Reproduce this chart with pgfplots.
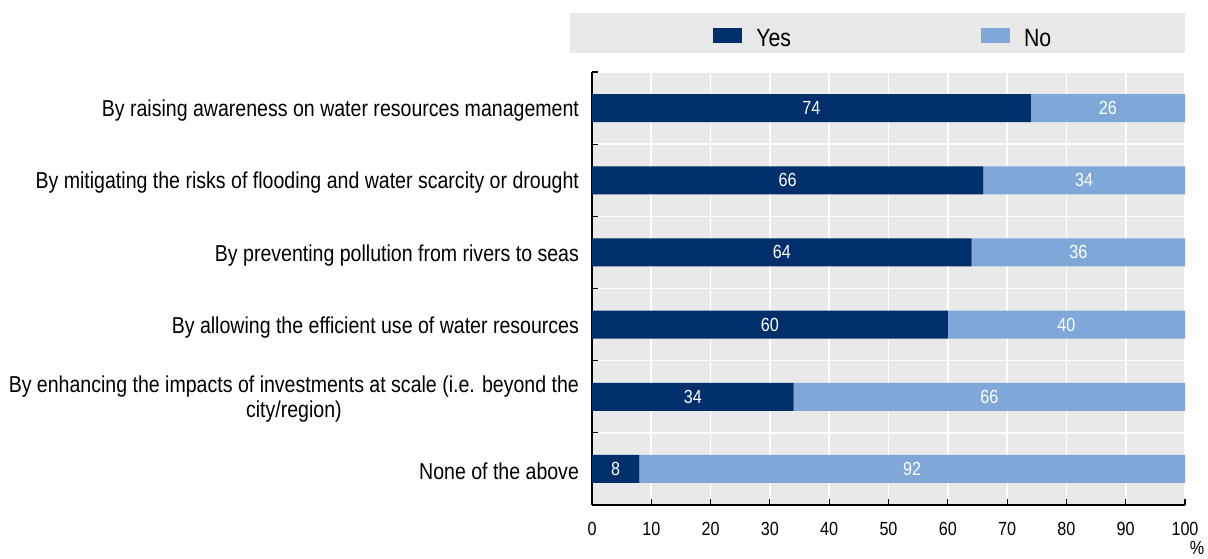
\documentclass[border=0pt]{standalone}
\usepackage{pgfplots}
\pgfplotsset{compat=1.18}
\usepackage{pgfplotstable}
\usepackage{fontspec}
\setmainfont{Liberation Sans}[FakeStretch=0.85]
\definecolor{yescol}{HTML}{002F6C}
\definecolor{nocol}{HTML}{7FA8D9}
\definecolor{bggray}{HTML}{E9E9E9}
\pgfplotstableread{
y yes no
0 74 26
1 66 34
2 64 36
3 60 40
4 34 66
5 8 92
}\datatable
\begin{document}
\begin{tikzpicture}
\useasboundingbox (-296pt,-26.5pt) rectangle (308pt,252.5pt);
\begin{axis}[name=ax,
  scale only axis, width=296.5pt, height=216.5pt,
  xbar stacked, bar width=14pt,
  xmin=0, xmax=100, ymin=-0.5, ymax=5.5, y dir=reverse,
  axis x line*=bottom, axis y line*=left,
  axis line style={black, line width=0.6pt, -},
  axis background/.style={fill=bggray},
  xtick={0,10,...,100},
  ytick={-0.5,0.5,...,5.5},
  yticklabels={By raising awareness on water resources management,
    By mitigating the risks of flooding and water scarcity or drought,
    By preventing pollution from rivers to seas,
    By allowing the efficient use of water resources,
    {By enhancing the impacts of investments at scale (i.e. beyond the\\city/region)},
    None of the above, {}},
  yticklabel style={yshift=-19.4pt, align=center, font=\fontsize{11.5}{12.5}\selectfont, xshift=-3pt},
  xticklabel style={font=\fontsize{9.5}{11}\selectfont, yshift=-5pt},
  /pgf/number format/assume math mode=true,
  tick align=inside, major tick length=3pt,
  tick style={black, line width=0.6pt},
  grid=major, major grid style={white, line width=0.8pt},
  nodes near coords, point meta=rawx,
  every node near coord/.style={white, font=\fontsize{9.5}{11}\selectfont, anchor=center},
  legend columns=2,
  legend style={at={(axis description cs:0,1)}, anchor=south west, xshift=-11pt, yshift=9.5pt,
    fill=bggray, draw=none, font=\fontsize{12.5}{14}\selectfont,
    inner xsep=65pt, inner ysep=0pt,
    nodes={anchor=base west, inner ysep=0pt, text height=17pt, text depth=3pt},
    /tikz/every odd column/.append style={column sep=5pt},
    /tikz/every even column/.append style={column sep=86.5pt}},
  legend image code/.code={\path[draw=none, fill=none] (-6.5pt,3pt) -- (0pt,3pt);\fill[#1] (0pt,2pt) rectangle (14.5pt,9.5pt);},
]
\addplot[fill=yescol, draw=none] table[x=yes, y=y]{\datatable};
\addplot[fill=nocol, draw=none] table[x=no, y=y]{\datatable};
\legend{Yes, No}
\end{axis}
\node[font=\fontsize{9.5}{11}\selectfont, text=black] at (ax.south east) [xshift=6pt, yshift=-21.5pt] {\%};
\end{tikzpicture}
\end{document}
